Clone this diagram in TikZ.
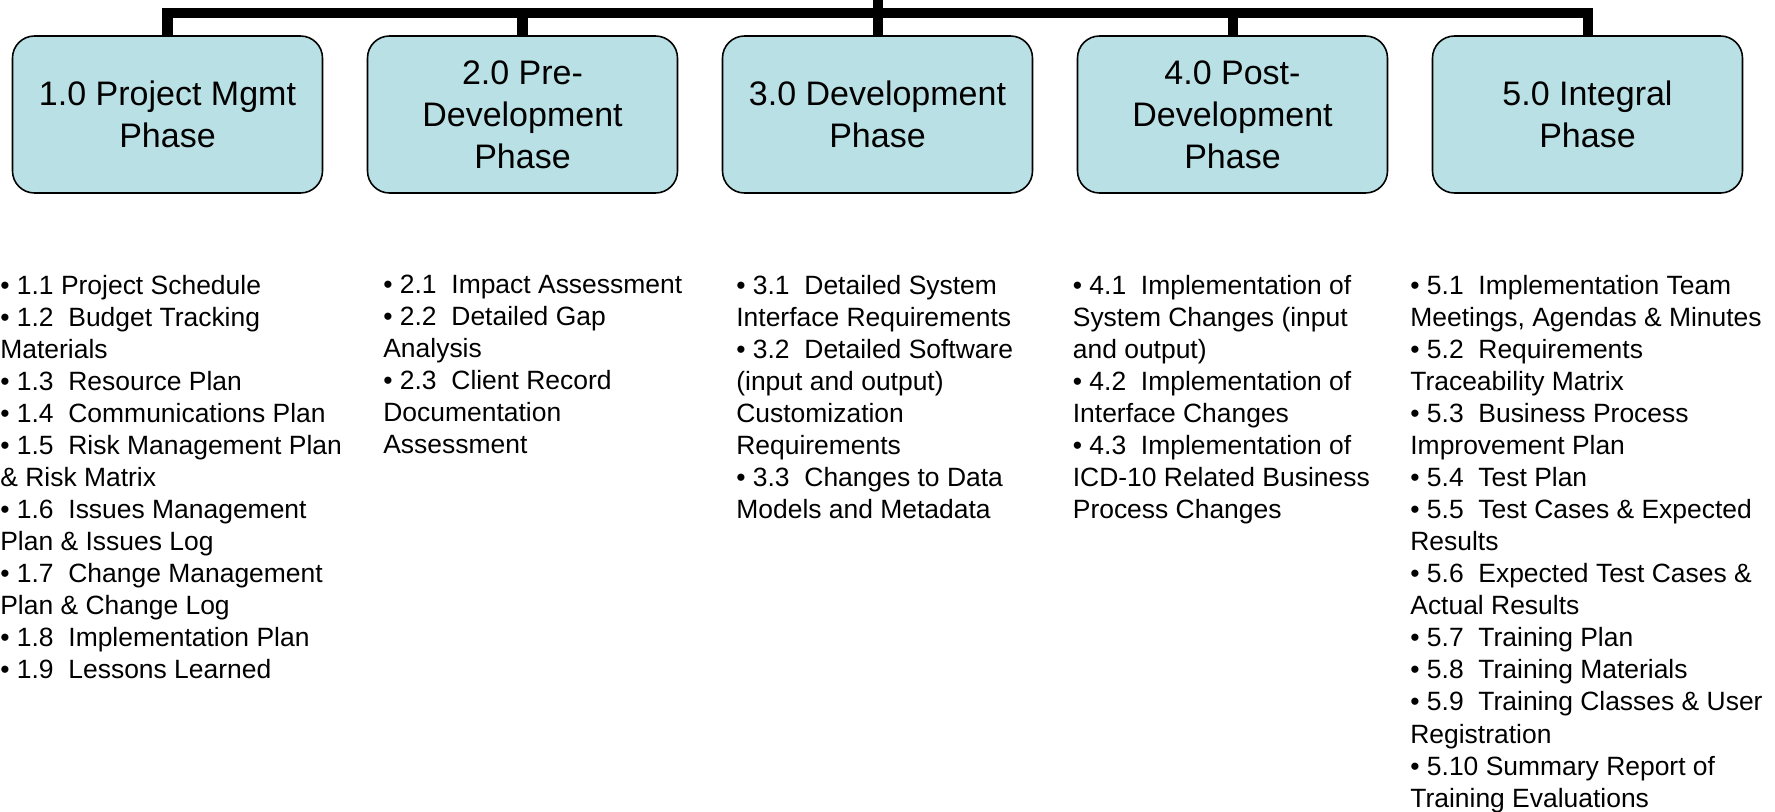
\documentclass[tikz,border=0pt]{standalone}
\usepackage{fontspec}
\setmainfont{Liberation Sans}
\usetikzlibrary{positioning}
\definecolor{phasefill}{RGB}{185,224,228}

\tikzset{
  phase/.style={draw, fill=phasefill, line width=0.9pt, rounded corners=0.44cm,
    minimum width=6.2cm, minimum height=3.14cm, align=center,
    font=\fontsize{19.35}{23.9}\selectfont},
  items/.style={anchor=north west, inner sep=0pt, align=left,
    font=\fontsize{15.05}{18.25}\selectfont},
  bus/.style={line width=5.7pt}
}

\begin{document}
\begin{tikzpicture}
  \useasboundingbox (0, 0) rectangle (35.5, -16.22);

  % Phases
  \node[phase] (p1) at (3.35, -2.29) {1.0 Project Mgmt\\Phase};
  \node[phase] (p2) at (10.45, -2.29) {2.0 Pre-\\Development\\Phase};
  \node[phase] (p3) at (17.55, -2.29) {3.0 Development\\Phase};
  \node[phase] (p4) at (24.65, -2.29) {4.0 Post-\\Development\\Phase};
  \node[phase] (p5) at (31.75, -2.29) {5.0 Integral\\Phase};

  \coordinate (root) at (17.55, 0);
  \coordinate (bar) at (17.55, -0.26);

  \draw[bus] (p1.north) |- (bar) -| (p5.north);
  \draw[bus] (root) -- (p3.north);
  \draw[bus] (p2.north) -- (p2.north |- bar);
  \draw[bus] (p4.north) -- (p4.north |- bar);

  % Deliverables
  \node[items] (d1) at (0, -5.49) {%
    • 1.1 Project Schedule\\
    • 1.2\ \ Budget Tracking\\
    Materials\\
    • 1.3\ \ Resource Plan\\
    • 1.4\ \ Communications Plan\\
    • 1.5\ \ Risk Management Plan\\
    \& Risk Matrix\\
    • 1.6\ \ Issues Management\\
    Plan \& Issues Log\\
    • 1.7\ \ Change Management\\
    Plan \& Change Log\\
    • 1.8\ \ Implementation Plan\\
    • 1.9\ \ Lessons Learned};
  \node[items] (d2) at (7.66, -5.49) {%
    • 2.1\ \ Impact Assessment\\
    • 2.2\ \ Detailed Gap\\
    Analysis\\
    • 2.3\ \ Client Record\\
    Documentation\\
    Assessment};
  \node[items] (d3) at (14.72, -5.49) {%
    • 3.1\ \ Detailed System\\
    Interface Requirements\\
    • 3.2\ \ Detailed Software\\
    (input and output)\\
    Customization\\
    Requirements\\
    • 3.3\ \ Changes to Data\\
    Models and Metadata};
  \node[items] (d4) at (21.45, -5.49) {%
    • 4.1\ \ Implementation of\\
    System Changes (input\\
    and output)\\
    • 4.2\ \ Implementation of\\
    Interface Changes\\
    • 4.3\ \ Implementation of\\
    ICD-10 Related Business\\
    Process Changes};
  \node[items] (d5) at (28.2, -5.49) {%
    • 5.1\ \ Implementation Team\\
    Meetings, Agendas \& Minutes\\
    • 5.2\ \ Requirements\\
    Traceability Matrix\\
    • 5.3\ \ Business Process\\
    Improvement Plan\\
    • 5.4\ \ Test Plan\\
    • 5.5\ \ Test Cases \& Expected\\
    Results\\
    • 5.6\ \ Expected Test Cases \&\\
    Actual Results\\
    • 5.7\ \ Training Plan\\
    • 5.8\ \ Training Materials\\
    • 5.9\ \ Training Classes \& User\\
    Registration\\
    • 5.10 Summary Report of\\
    Training Evaluations};

\end{tikzpicture}
\end{document}
